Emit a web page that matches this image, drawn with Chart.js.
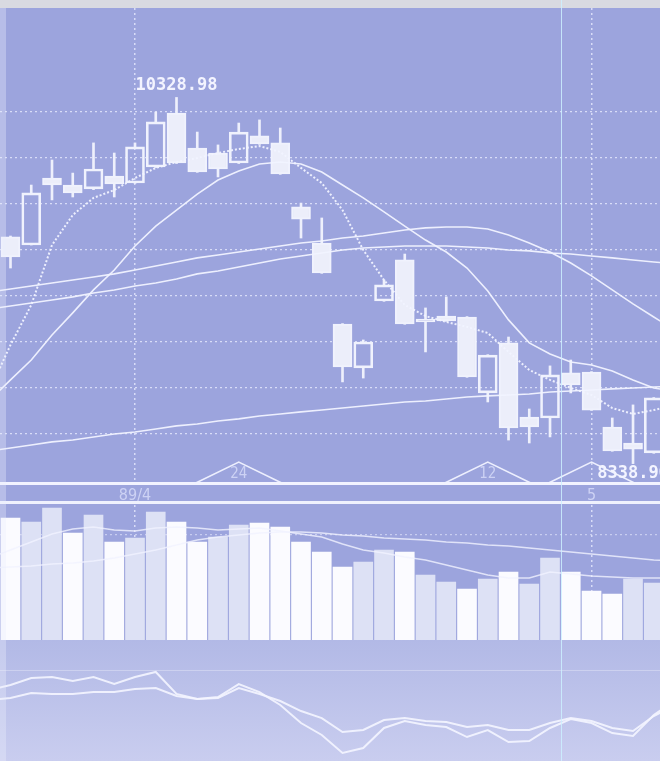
<!DOCTYPE html>
<html><head><meta charset="utf-8">
<title>Candlestick chart</title>
<script src="https://cdn.jsdelivr.net/npm/chart.js@4.4.1/dist/chart.umd.min.js"></script>
<style>
html,body{margin:0;padding:0;}
body{width:660px;height:761px;overflow:hidden;background:#9ca4dd;}
#wrap{position:relative;width:660px;height:761px;}
.abs{position:absolute;}
canvas{display:block;}
</style></head><body>
<div id="wrap">
<div class="abs" style="left:0;top:0;width:660px;height:8px;background:#d9dae1"></div>
<div class="abs" style="left:0;top:8px;width:660px;height:497px;background:#9ca4dd"><canvas id="priceChart" width="660" height="497"></canvas></div>
<div class="abs" style="left:0;top:505px;width:660px;height:135px;background:#9ca4dd"><canvas id="volumeChart" width="660" height="135"></canvas></div>
<div class="abs" style="left:0;top:640px;width:660px;height:121px;background:linear-gradient(#b2b9e6,#c9cdef)"><canvas id="oscChart" width="660" height="121"></canvas></div>
<div class="abs" style="left:0;top:501px;width:660px;height:3px;background:#eff1fd"></div>
<div class="abs" style="left:0;top:8px;width:6px;height:753px;background:rgba(235,237,252,0.35)"></div>
<div class="abs" style="left:561px;top:0;width:1px;height:761px;background:rgba(205,240,255,0.85)"></div>
</div>
<script>
// ---- data ----
// 32 visible sessions (candles / volume bars)
const sessions = ['1','2','3','4','5','6','7','8','9','10','11','12','13','14','15','16',
                  '17','18','19','20','21','22','23','24','25','26','27','28','29','30','31','32'];
const open  = [9571,9527,9891,9853,9832,9902,9864,9951,10244,10054,10027,9973,10120,10082,9734,9538,
               9098,8859,9223,9446,9125,9141,9136,8723,8995,8592,8587,8832,8837,8538,8451,8397];
const high  = [9576,9853,9989,9918,10082,10027,10082,10250,10328.98,10141,10071,10190,10207,10163,9755,9674,
               9100,9011,9337,9478,9185,9245,9138,8931,9027,8636,8870,8902,8839,8587,8658,8698];
const low   = [9402,9527,9772,9788,9828,9788,9862,9948,9970,9922,9897,9970,10074,9911,9565,9373,
               8783,8804,9221,9096,8946,9112,8808,8674,8467,8451,8484,8723,8628,8406,8338.90,8395];
const close = [9462,9810,9853,9810,9940,9859,10060,10196,9973,9924,9940,10141,10076,9913,9668,9375,
               8864,9000,9310,9098,9109,9114,8810,8929,8533,8538,8821,8766,8630,8408,8418,8696];
const volume = [122,118,132,107,125,98,102,128,118,98,103,115,117,113,98,88,
                73,78,90,88,65,58,51,61,68,56,82,68,49,46,61,57];

// indicator lines: one extra session at each end (the lines run to the picture edges)
const ma5   = [8739,8984,9201,9527,9690,9783,9826,9891,9946,9978,10000,10027,10049,10065,10033,9946,9864,
               9717,9500,9337,9201,9141,9109,9082,9049,8946,8848,8794,8750,8712,8641,8609,8630,8657];
const ma13  = [8685,8794,8902,9038,9158,9283,9391,9522,9630,9717,9804,9880,9929,9967,9978,9967,9924,
               9853,9783,9707,9630,9554,9489,9402,9277,9120,8995,8935,8891,8875,8842,8794,8750,8731];
const ma26  = [9272,9288,9304,9321,9337,9353,9370,9391,9413,9435,9457,9473,9489,9505,9522,9538,9549,
               9565,9576,9592,9609,9620,9625,9625,9614,9582,9538,9489,9429,9359,9283,9207,9136,9065];
const ma52  = [9179,9196,9212,9228,9245,9266,9283,9304,9321,9342,9370,9386,9408,9429,9451,9467,9484,
               9500,9511,9516,9522,9522,9522,9516,9511,9500,9495,9484,9478,9467,9457,9446,9435,9424];
const ma150 = [8408,8424,8440,8457,8467,8484,8500,8511,8527,8544,8554,8571,8582,8598,8609,8620,8630,
               8641,8652,8663,8674,8679,8690,8701,8707,8712,8717,8728,8734,8739,8745,8750,8755,8761];
const volMaShort = [82,90,98,106,111,113,110,109,112,113,112,110,111,112,109,106,103,
                    96,90,87,83,80,75,70,65,62,62,68,66,64,63,62,62,62];
const volMaLong  = [72,73,74,76,77,79,82,86,90,95,100,103,105,107,108,108,107,
                    105,104,102,101,100,98,97,95,94,92,90,88,86,84,82,80,79];
const oscFast = [58.7,62.8,68.6,69.4,66.1,69.4,63.6,69.4,73.6,55.4,51.2,52.9,63.6,57.0,46.3,31.4,21.5,
                 6.6,10.7,27.3,33.1,29.8,28.1,19.8,25.6,15.7,16.5,27.3,34.7,31.4,23.1,20.7,38.0,50.0];
const oscSlow = [50.4,52.1,56.2,55.4,55.4,57.0,57.0,59.5,60.3,53.7,51.2,52.1,60.3,55.4,49.6,41.3,35.5,
                 24.0,25.6,33.9,35.5,33.1,32.2,28.1,29.8,25.6,25.6,31.4,35.5,33.1,27.3,24.8,37.2,46.0];

const priceTicks = [8500,8750,9000,9250,9500,9750,10000,10250];
const dateTickIdx = [6, 28];
const dateTickLabels = ['89/4', '5'];
const markerIdx = [11, 23, 28];
const markerLabels = ['24', '12', ''];

// ---- styles / scale settings ----
const X_MIN = -0.506, X_MAX = 31.3;
const Y_MIN = 8233.6, Y_MAX = 10815.2;
const FG = 'rgba(241,243,255,0.95)';
const BODY = '#eceefa';
const DOT_GRID = 'rgba(236,239,255,0.75)';
const LABEL = '#cdd2f4';

const pts = arr => sessions.map((s, i) => ({x: i, y: arr[i]}));
const linePts = arr => arr.map((v, i) => ({x: i - 1, y: v}));   // first entry is the session before '1'
const isUp = i => close[i] >= open[i];
const volUp = i => i === 0 ? close[0] >= open[0] : close[i] >= close[i - 1];

function lineDs(label, arr, extra) {
  return Object.assign({type: 'line', label, data: linePts(arr), borderColor: FG, borderWidth: 1.6,
    pointRadius: 0, tension: 0, fill: false, order: 0}, extra || {});
}
const baseOpts = {responsive: false, animation: false, events: [], layout: {padding: 0},
  plugins: {legend: {display: false}, tooltip: {enabled: false}}};

// annotation plugin: date triangles, high / low labels
const annot = {
  id: 'annot',
  afterDatasetsDraw(chart) {
    const {ctx, chartArea, scales: {x, y}} = chart;
    ctx.save();
    markerIdx.forEach((m, k) => {
      const cx = x.getPixelForValue(m);
      const b = chartArea.bottom;
      ctx.beginPath();
      ctx.moveTo(cx - 43, b); ctx.lineTo(cx, b - 21); ctx.lineTo(cx + 43, b);
      ctx.strokeStyle = FG; ctx.lineWidth = 1.5; ctx.stroke();
      if (markerLabels[k]) {
        ctx.fillStyle = LABEL; ctx.font = '15px "DejaVu Sans Condensed"';
        ctx.textAlign = 'center'; ctx.textBaseline = 'bottom';
        ctx.fillText(markerLabels[k], cx, b - 1);
      }
    });
    const hi = Math.max(...high), hiI = high.indexOf(hi);
    const lo = Math.min(...low), loI = low.indexOf(lo);
    ctx.font = 'bold 17px "DejaVu Sans Mono"';
    ctx.fillStyle = '#f3f4ff'; ctx.textAlign = 'center';
    ctx.textBaseline = 'bottom';
    ctx.fillText(hi.toFixed(2), x.getPixelForValue(hiI), y.getPixelForValue(hi) - 3);
    ctx.textBaseline = 'top';
    ctx.fillText(lo.toFixed(2), x.getPixelForValue(loI), y.getPixelForValue(lo) + 1);
    ctx.restore();
  }
};

// ---- price panel ----
new Chart(document.getElementById('priceChart'), {
  type: 'bar',
  data: {datasets: [
    lineDs('MA5', ma5, {borderWidth: 2, borderDash: [2, 2]}),
    lineDs('MA13', ma13),
    lineDs('MA26', ma26),
    lineDs('MA52', ma52),
    lineDs('MA150', ma150),
    {type: 'bar', label: 'Body', data: sessions.map((s, i) => ({x: i, y: [open[i], close[i]]})),
      backgroundColor: c => isUp(c.dataIndex) ? 'rgba(0,0,0,0)' : BODY,
      borderColor: '#f0f2fd', borderWidth: 2, borderSkipped: false,
      barThickness: 19, grouped: false, order: 1},
    {type: 'bar', label: 'UpperWick', data: sessions.map((s, i) => ({x: i, y: [Math.max(open[i], close[i]), high[i]]})),
      backgroundColor: '#eef0fc', borderWidth: 0, barThickness: 2, grouped: false, order: 2},
    {type: 'bar', label: 'LowerWick', data: sessions.map((s, i) => ({x: i, y: [low[i], Math.min(open[i], close[i])]})),
      backgroundColor: '#eef0fc', borderWidth: 0, barThickness: 2, grouped: false, order: 2}
  ]},
  options: Object.assign({}, baseOpts, {
    scales: {
      x: {type: 'linear', min: X_MIN, max: X_MAX, offset: false, position: 'bottom',
        afterBuildTicks: a => { a.ticks = dateTickIdx.map(v => ({value: v})); },
        afterFit: s => { s.height = 22; },
        ticks: {callback: (v, i) => dateTickLabels[i], color: LABEL,
          font: {family: '"DejaVu Sans Condensed"', size: 16}, padding: 3, maxRotation: 0, autoSkip: false},
        grid: {color: DOT_GRID, lineWidth: 1.5, drawTicks: false, offset: false},
        border: {display: true, color: '#f2f3ff', width: 3, dash: [2, 3]}},
      y: {type: 'linear', min: Y_MIN, max: Y_MAX, position: 'left',
        afterBuildTicks: a => { a.ticks = priceTicks.map(v => ({value: v})); },
        afterFit: s => { s.width = 0; },
        ticks: {display: false},
        grid: {color: DOT_GRID, lineWidth: 1.2, drawTicks: false},
        border: {display: false, dash: [2, 3]}}
    }
  }),
  plugins: [annot]
});

// ---- volume panel ----
new Chart(document.getElementById('volumeChart'), {
  type: 'bar',
  data: {datasets: [
    lineDs('VolMA short', volMaShort, {borderColor: 'rgba(241,243,255,0.8)', borderWidth: 1.5}),
    lineDs('VolMA long', volMaLong, {borderColor: 'rgba(241,243,255,0.8)', borderWidth: 1.5}),
    {type: 'bar', label: 'Volume', data: pts(volume),
      backgroundColor: c => volUp(c.dataIndex) ? '#dde1f5' : '#fbfbff',
      borderWidth: 0, barThickness: 19, grouped: false, order: 1}
  ]},
  options: Object.assign({}, baseOpts, {
    scales: {
      x: {type: 'linear', min: X_MIN, max: X_MAX, offset: false,
        afterBuildTicks: a => { a.ticks = dateTickIdx.map(v => ({value: v})); },
        afterFit: s => { s.height = 0; },
        ticks: {display: false},
        grid: {color: DOT_GRID, lineWidth: 1.5, drawTicks: false, offset: false},
        border: {display: false, dash: [2, 3]}},
      y: {type: 'linear', min: 0, max: 135,
        afterBuildTicks: a => { a.ticks = [{value: 105}]; },
        afterFit: s => { s.width = 0; },
        ticks: {display: false},
        grid: {color: 'rgba(236,239,255,0.55)', lineWidth: 1.2, drawTicks: false},
        border: {display: false, dash: [2, 3]}}
    }
  })
});

// ---- oscillator panel ----
new Chart(document.getElementById('oscChart'), {
  type: 'line',
  data: {datasets: [
    lineDs('Fast', oscFast, {borderColor: 'rgba(244,245,255,0.9)', borderWidth: 2}),
    lineDs('Slow', oscSlow, {borderColor: 'rgba(244,245,255,0.9)', borderWidth: 2})
  ]},
  options: Object.assign({}, baseOpts, {
    scales: {
      x: {type: 'linear', min: X_MIN, max: X_MAX, display: false},
      y: {type: 'linear', min: 0, max: 100,
        afterBuildTicks: a => { a.ticks = [{value: 75}]; },
        afterFit: s => { s.width = 0; },
        ticks: {display: false},
        grid: {color: 'rgba(255,255,255,0.3)', lineWidth: 1, drawTicks: false},
        border: {display: false}}
    }
  })
});
</script>
</body></html>
